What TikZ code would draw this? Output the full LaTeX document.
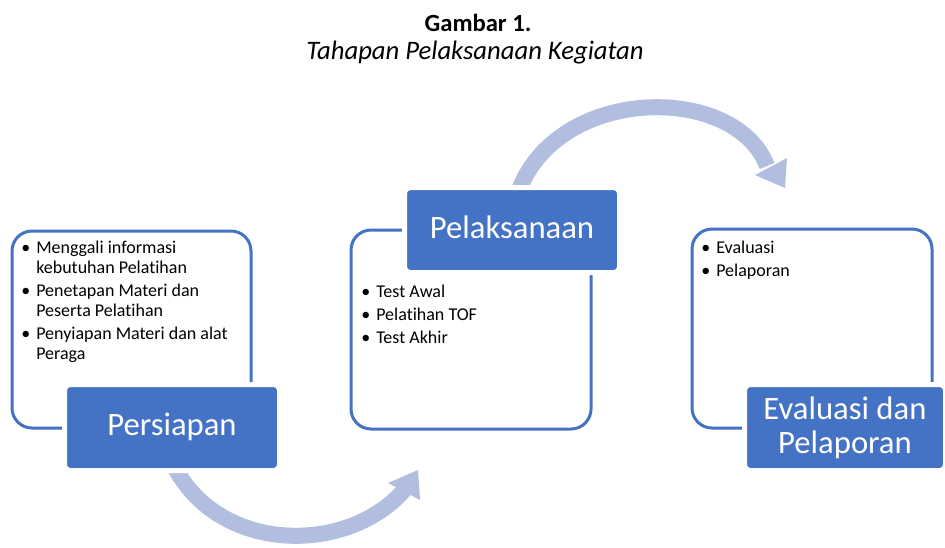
\documentclass[tikz,border=0pt]{standalone}
\usepackage{fontspec}
\setmainfont[Ligatures=NoCommon]{Carlito}
\usetikzlibrary{fit}
\definecolor{mainblue}{HTML}{4472C4}
\definecolor{arrowblue}{RGB}{178,190,224}
\newcommand{\lstfont}{\fontsize{13.5}{15}\selectfont}
\tikzset{
  outline/.style={draw=mainblue, line width=2.25pt, rounded corners=15pt, inner sep=0pt},
  labelbox/.style={draw=white, line width=3.75pt, fill=mainblue, rounded corners=4pt,
    inner sep=0pt, text=white, font=\fontsize{24.5}{25.5}\selectfont, align=center},
  listtext/.style={anchor=north west, inner sep=0pt, text=black},
  arrowshaft/.style={draw=arrowblue, line width=12pt},
  arrowhead/.style={fill=arrowblue},
  titletext/.style={anchor=base, inner sep=0pt}
}
\begin{document}
\begin{tikzpicture}[x=0.75pt,y=-0.75pt]
\useasboundingbox (0,0) rectangle (945,547);

% title
\node[titletext, font=\fontsize{18.5}{20}\selectfont\bfseries] (title1) at (478,31) {Gambar 1.};
\node[titletext, font=\fontsize{20}{22}\selectfont\itshape] (title2) at (475,59) {Tahapan Pelaksanaan Kegiatan};

% outline boxes
\node[outline, fit={(12,231) (251,428)}] (box1) {};
\node[outline, fit={(351,230) (591,429)}] (box2) {};
\node[outline, fit={(692,229) (932,428)}] (box3) {};

% arrows
\coordinate (a1s) at (174,466);
\coordinate (a1e) at (406,488);
\draw[arrowshaft] (a1s) .. controls (220,555) and (350,555) .. (a1e);
\fill[arrowhead] (418,470) -- (388,483) -- (420,500) -- cycle;

\coordinate (a2s) at (519,190);
\coordinate (a2e) at (767,166);
\draw[arrowshaft] (a2s) .. controls (560,84) and (736,84) .. (a2e);
\fill[arrowhead] (787,158) -- (755,175) -- (785,188) -- cycle;

% label boxes
\node[labelbox, minimum width=161.25pt, minimum height=64.5pt, text depth=5pt] (persiapan) at (172,427.5) {Persiapan};
\node[labelbox, minimum width=161.25pt, minimum height=63.75pt, text depth=5pt] (pelaksanaan) at (512,230) {Pelaksanaan};
\node[labelbox, minimum width=150.75pt, minimum height=64.5pt] (evaluasi) at (845,427.5) {Evaluasi dan\\Pelaporan};

% lists
\node[listtext] (list1) at (21,239) {\lstfont
  \begin{tabular}{@{}p{11.25pt}@{}l@{}}
  \textbullet & Menggali informasi\\
   & kebutuhan Pelatihan\\[2.25pt]
  \textbullet & Penetapan Materi dan\\
   & Peserta Pelatihan\\[2.25pt]
  \textbullet & Penyiapan Materi dan alat\\
   & Peraga
  \end{tabular}};
\node[listtext] (list2) at (361,283) {\lstfont
  \begin{tabular}{@{}p{11.25pt}@{}l@{}}
  \textbullet & Test Awal\\[2.25pt]
  \textbullet & Pelatihan TOF\\[2.25pt]
  \textbullet & Test Akhir
  \end{tabular}};
\node[listtext] (list3) at (701,239) {\lstfont
  \begin{tabular}{@{}p{11.25pt}@{}l@{}}
  \textbullet & Evaluasi\\[2.25pt]
  \textbullet & Pelaporan
  \end{tabular}};
\end{tikzpicture}
\end{document}
